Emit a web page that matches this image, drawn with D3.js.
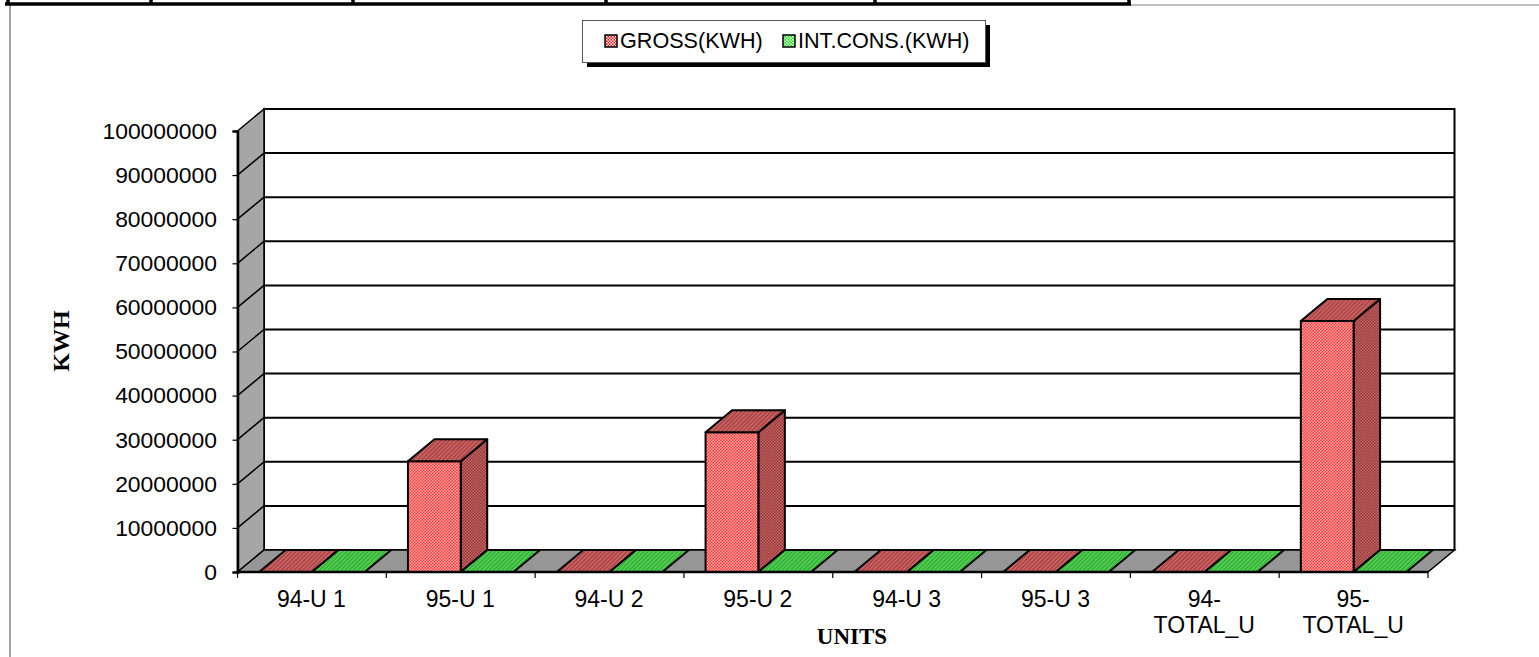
<!DOCTYPE html>
<html>
<head>
<meta charset="utf-8">
<script src="https://d3js.org/d3.v7.min.js"></script>
<style>
  html, body { margin: 0; padding: 0; background: #fff; overflow: hidden; }
  text { font-family: "Liberation Sans", Arial, sans-serif; fill: #000; }
  .title { font-family: "Liberation Serif", "Times New Roman", serif; font-weight: bold; }
</style>
</head>
<body>
<div id="chart"></div>
<script>
// Chart data
var categories = ["94-U 1", "95-U 1", "94-U 2", "95-U 2", "94-U 3", "95-U 3", "94-TOTAL_U", "95-TOTAL_U"];
var seriesNames = ["GROSS(KWH)", "INT.CONS.(KWH)"];
var grossValues = [0, 25100000, 0, 31700000, 0, 0, 0, 56900000];
var intConsValues = [0, 0, 0, 0, 0, 0, 0, 0];
var yTicks = [0, 10000000, 20000000, 30000000, 40000000, 50000000, 60000000, 70000000, 80000000, 90000000, 100000000];
var tableEdges = [8, 151, 353, 606, 875, 1129];

var W = 1539, H = 657;

// Front plane of the 3D plot and the offset of the back wall
var plot = { left: 237.5, right: 1428, top: 131, bottom: 572 };
var depth = { x: 26.5, y: -22 };

var svg = d3.select("#chart").append("svg")
    .attr("width", W)
    .attr("height", H)
    .style("display", "block");

// Checker and stripe fills for the bar faces
var defs = svg.append("defs");
function checker(id, base, dot) {
    var p = defs.append("pattern").attr("id", id)
        .attr("width", 3).attr("height", 3)
        .attr("patternUnits", "userSpaceOnUse");
    p.append("rect").attr("width", 3).attr("height", 3).attr("fill", base);
    p.append("rect").attr("width", 1.5).attr("height", 1.5).attr("fill", dot);
    p.append("rect").attr("x", 1.5).attr("y", 1.5).attr("width", 1.5).attr("height", 1.5).attr("fill", dot);
}
function stripes(id, base, line) {
    var p = defs.append("pattern").attr("id", id)
        .attr("width", 3).attr("height", 3)
        .attr("patternUnits", "userSpaceOnUse")
        .attr("patternTransform", "rotate(45)");
    p.append("rect").attr("width", 3).attr("height", 3).attr("fill", base);
    p.append("rect").attr("width", 1.5).attr("height", 3).attr("fill", line);
}
checker("redFront", "#ff3030", "#ffb4b4");
checker("redSide", "#983434", "#c46a6a");
stripes("redTop", "#a83c3c", "#cc6c6c");
checker("greenFront", "#28d828", "#a8f0a8");
checker("greenSide", "#1f8f1f", "#55b855");
stripes("greenTop", "#2aae2a", "#60d060");
checker("redKey", "#f00000", "#ffffff");
checker("greenKey", "#00e000", "#ffffff");

var faces = [
    { front: "url(#redFront)", side: "url(#redSide)", top: "url(#redTop)" },
    { front: "url(#greenFront)", side: "url(#greenSide)", top: "url(#greenTop)" }
];

// Scales
var x = d3.scaleBand().domain(categories).range([plot.left, plot.right]);
var xSeries = d3.scaleBand().domain(seriesNames).range([0, x.bandwidth()]).paddingOuter(0.41).paddingInner(0);
var y = d3.scaleLinear().domain([0, 100000000]).range([plot.bottom, plot.top]);

function pts(list) {
    return list.map(function (p) { return p.join(","); }).join(" ");
}

// Table rule and page frame left over above the chart
svg.append("line").attr("x1", 1129).attr("x2", W).attr("y1", 5).attr("y2", 5)
    .attr("stroke", "#808080").attr("stroke-width", 1);
svg.append("line").attr("x1", 10).attr("x2", 10).attr("y1", 5).attr("y2", H)
    .attr("stroke", "#666").attr("stroke-width", 1.2);
svg.append("line").attr("x1", tableEdges[0] - 3).attr("x2", 1131).attr("y1", 4).attr("y2", 4)
    .attr("stroke", "#000").attr("stroke-width", 3.5);
svg.selectAll(".tableEdge").data(tableEdges).enter().append("line")
    .attr("class", "tableEdge")
    .attr("x1", function (d) { return d; }).attr("x2", function (d) { return d; })
    .attr("y1", 0).attr("y2", 5)
    .attr("stroke", "#000").attr("stroke-width", 3.5);

// Back wall, left wall and floor
var back = {
    left: plot.left + depth.x, right: plot.right + depth.x,
    top: plot.top + depth.y, bottom: plot.bottom + depth.y
};
svg.append("rect")
    .attr("x", back.left).attr("y", back.top)
    .attr("width", back.right - back.left).attr("height", back.bottom - back.top)
    .attr("fill", "#fff").attr("stroke", "#000").attr("stroke-width", 2);
svg.append("polygon")
    .attr("points", pts([[plot.left, plot.top], [back.left, back.top], [back.left, back.bottom], [plot.left, plot.bottom]]))
    .attr("fill", "#a6a6a6").attr("stroke", "#000").attr("stroke-width", 1.5);
svg.append("polygon")
    .attr("points", pts([[plot.left, plot.bottom], [back.left, back.bottom], [back.right, back.bottom], [plot.right, plot.bottom]]))
    .attr("fill", "#969696").attr("stroke", "#000").attr("stroke-width", 1.5);

// Gridlines: along the back wall and down the left wall
svg.selectAll(".grid").data(yTicks.slice(1, -1)).enter().append("line")
    .attr("class", "grid")
    .attr("x1", back.left).attr("x2", back.right)
    .attr("y1", function (d) { return y(d) + depth.y; })
    .attr("y2", function (d) { return y(d) + depth.y; })
    .attr("stroke", "#000").attr("stroke-width", 2);
svg.selectAll(".wallGrid").data(yTicks.slice(1, -1)).enter().append("line")
    .attr("class", "wallGrid")
    .attr("x1", plot.left).attr("x2", back.left)
    .attr("y1", function (d) { return y(d); })
    .attr("y2", function (d) { return y(d) + depth.y; })
    .attr("stroke", "#000").attr("stroke-width", 1.5);

// Bars, each one a front, a side and a top face
var rows = [];
categories.forEach(function (c, i) {
    rows.push({ cat: c, s: 0, value: grossValues[i] });
    rows.push({ cat: c, s: 1, value: intConsValues[i] });
});
var bars = svg.selectAll(".bar").data(rows).enter().append("g").attr("class", "bar");
bars.each(function (d) {
    var g = d3.select(this);
    var x0 = x(d.cat) + xSeries(seriesNames[d.s]);
    var x1 = x0 + xSeries.bandwidth();
    var yTop = y(d.value), yBase = y(0);
    var style = function (sel) { return sel.attr("stroke", "#000").attr("stroke-width", 2).attr("stroke-linejoin", "round"); };
    if (d.value > 0) {
        g.append("polygon")
            .attr("points", pts([[x1, yTop], [x1 + depth.x, yTop + depth.y], [x1 + depth.x, yBase + depth.y], [x1, yBase]]))
            .attr("fill", faces[d.s].side).call(style);
        g.append("rect")
            .attr("x", x0).attr("y", yTop).attr("width", x1 - x0).attr("height", yBase - yTop)
            .attr("fill", faces[d.s].front).call(style);
    }
    g.append("polygon")
        .attr("points", pts([[x0, yTop], [x0 + depth.x, yTop + depth.y], [x1 + depth.x, yTop + depth.y], [x1, yTop]]))
        .attr("fill", faces[d.s].top).call(style);
});

// Axes
var yAxis = d3.axisLeft(y).tickValues(yTicks).tickSize(5).tickPadding(15.5)
    .tickFormat(d3.format("d"));
var gy = svg.append("g").attr("transform", "translate(" + plot.left + ",0)").call(yAxis);
gy.select(".domain").attr("stroke-width", 2.5).attr("stroke", "#000");
gy.selectAll("text").style("font-size", "22.9px").attr("font-family", null);
gy.selectAll("line").attr("stroke-width", 1.2);

var xEdges = categories.map(function (c) { return x(c); }).concat([plot.right]);
svg.selectAll(".xTick").data(xEdges).enter().append("line")
    .attr("class", "xTick")
    .attr("x1", function (d) { return d; }).attr("x2", function (d) { return d; })
    .attr("y1", plot.bottom).attr("y2", plot.bottom + 6)
    .attr("stroke", "#000").attr("stroke-width", 1.2);
svg.append("line").attr("x1", plot.left).attr("x2", plot.right)
    .attr("y1", plot.bottom).attr("y2", plot.bottom)
    .attr("stroke", "#000").attr("stroke-width", 2.5);

// Category labels: the totals wrap after the dash
var labels = svg.selectAll(".xLabel").data(categories).enter().append("text")
    .attr("class", "xLabel")
    .attr("text-anchor", "middle")
    .style("font-size", "23px");
labels.each(function (d) {
    var parts = d.indexOf("TOTAL") >= 0 ? [d.split("-")[0] + "-", d.split("-")[1]] : [d];
    var cx = x(d) + x.bandwidth() / 2 - 0.5;
    d3.select(this).selectAll("tspan").data(parts).enter().append("tspan")
        .attr("x", cx)
        .attr("y", function (p, i) { return 607 + i * 26; })
        .text(function (p) { return p; });
});

// Axis titles
svg.append("text").attr("class", "title")
    .attr("text-anchor", "middle")
    .style("font-size", "23px")
    .attr("x", 852).attr("y", 644)
    .text("UNITS");
svg.append("text").attr("class", "title")
    .attr("text-anchor", "middle")
    .style("font-size", "24px")
    .attr("transform", "translate(69,341) rotate(-90)")
    .text("KWH");

// Legend with its drop shadow
var legend = svg.append("g");
legend.append("rect").attr("x", 587).attr("y", 25).attr("width", 403).attr("height", 42).attr("fill", "#000");
legend.append("rect").attr("x", 582.5).attr("y", 20.5).attr("width", 403).attr("height", 42)
    .attr("fill", "#fff").attr("stroke", "#555").attr("stroke-width", 1);
var legendX = [620, 798];
var keys = ["url(#redKey)", "url(#greenKey)"];
seriesNames.forEach(function (name, i) {
    legend.append("rect").attr("x", legendX[i] - 15).attr("y", 35).attr("width", 12).attr("height", 12)
        .attr("fill", keys[i]).attr("stroke", "#000").attr("stroke-width", 1.5);
    legend.append("text").attr("x", legendX[i]).attr("y", 48)
        .style("font-size", "21.6px").text(name);
});
</script>
</body>
</html>
